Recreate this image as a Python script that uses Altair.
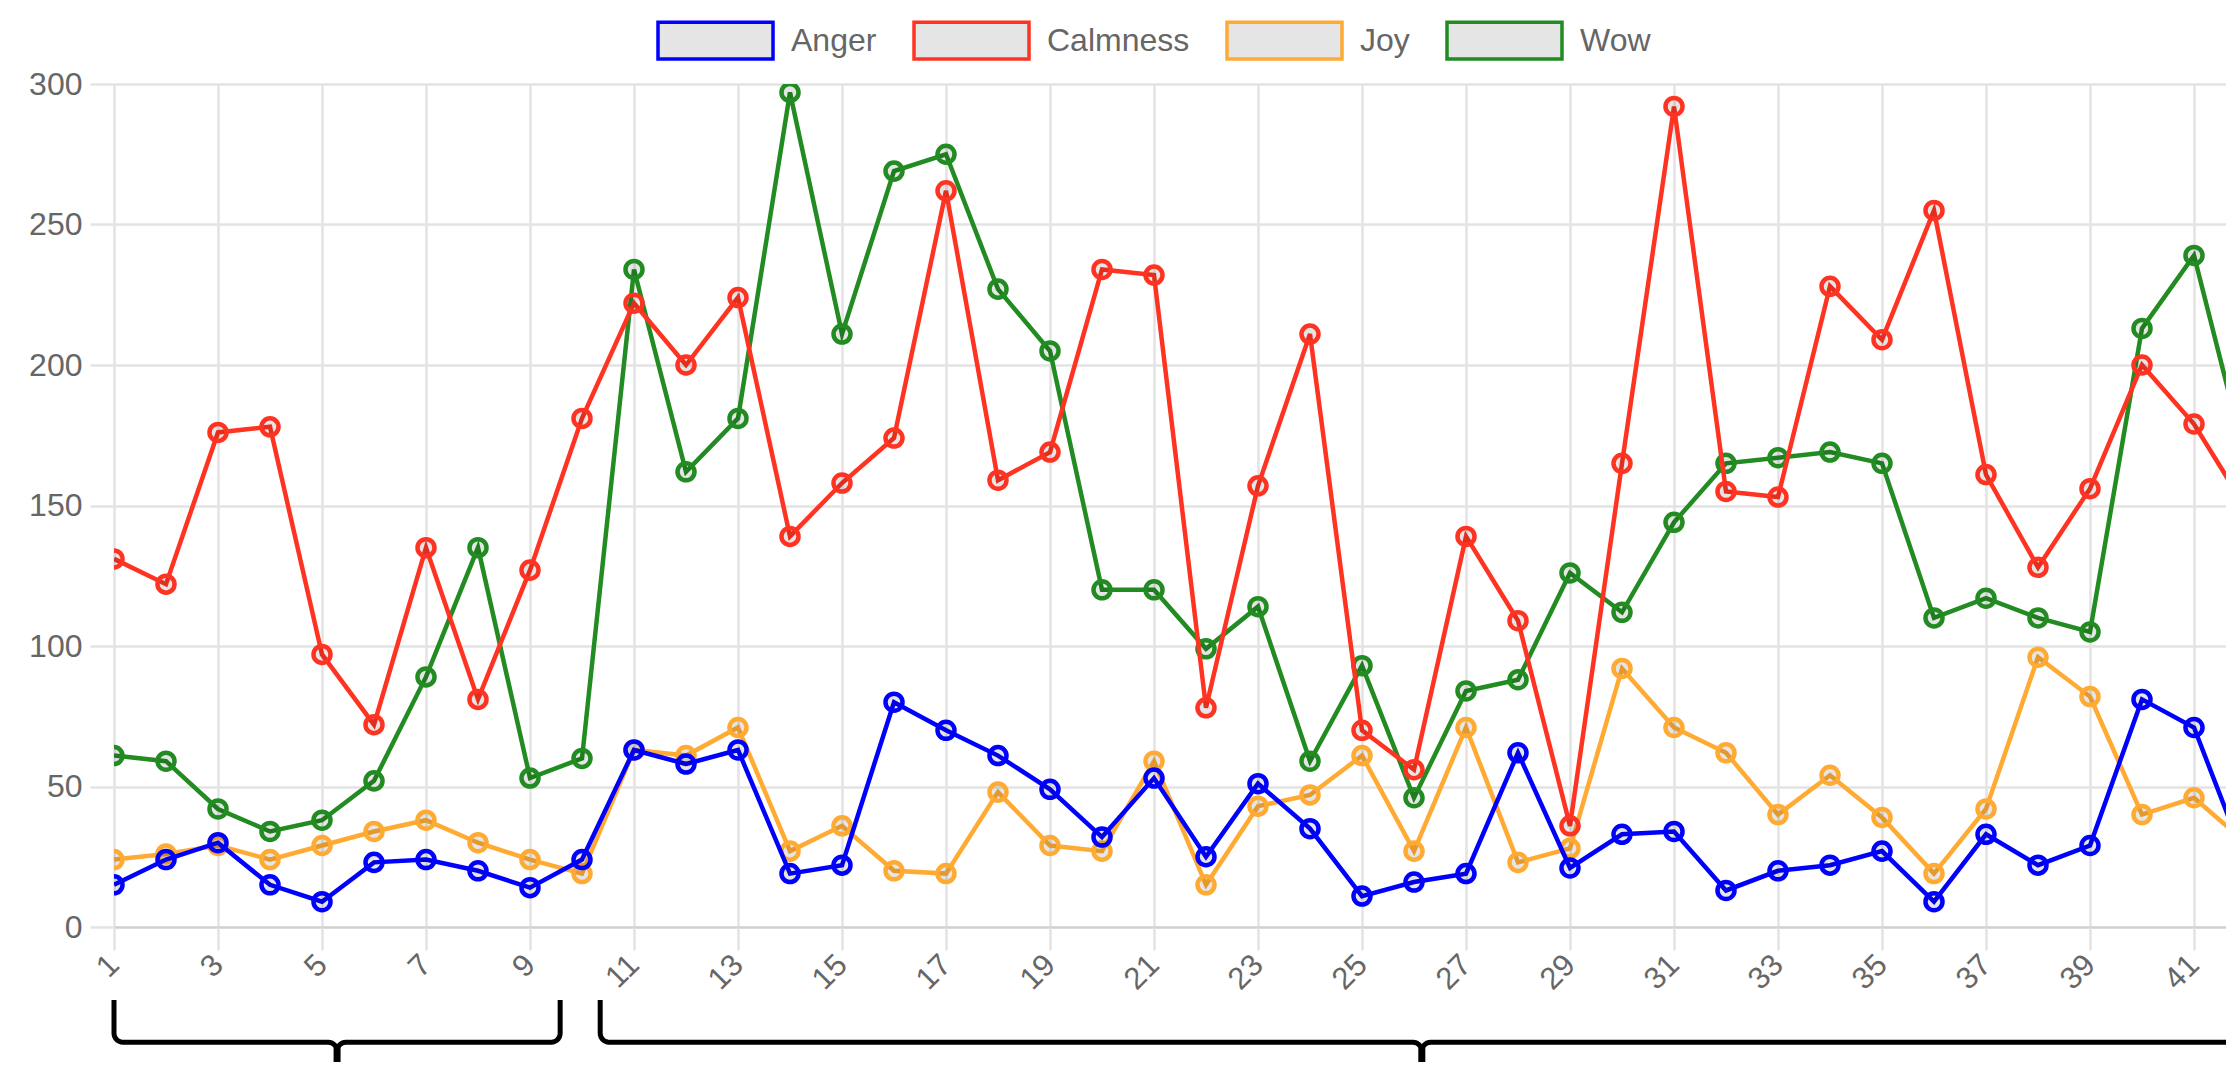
import altair as alt
import pandas as pd
import numpy as np

# ---------------- data ----------------
labels = list(range(1, 43))
anger = [15, 24, 30, 15, 9, 23, 24, 20, 14, 24, 63, 58, 63, 19, 22, 80, 70, 61, 49, 32, 53,
         25, 51, 35, 11, 16, 19, 62, 21, 33, 34, 13, 20, 22, 27, 9, 33, 22, 29, 81, 71, 23]
calmness = [131, 122, 176, 178, 97, 72, 135, 81, 127, 181, 222, 200, 224, 139, 158, 174, 262, 159, 169, 234, 232,
            78, 157, 211, 70, 56, 139, 109, 36, 165, 292, 155, 153, 228, 209, 255, 161, 128, 156, 200, 179, 149]
joy = [24, 26, 29, 24, 29, 34, 38, 30, 24, 19, 63, 61, 71, 27, 36, 20, 19, 48, 29, 27, 59,
       15, 43, 47, 61, 27, 71, 23, 28, 92, 71, 62, 40, 54, 39, 19, 42, 96, 82, 40, 46, 30]
wow = [61, 59, 42, 34, 38, 52, 89, 135, 53, 60, 234, 162, 181, 297, 211, 269, 275, 227, 205, 120, 120,
       99, 114, 59, 93, 46, 84, 88, 126, 112, 144, 165, 167, 169, 165, 110, 117, 110, 105, 213, 239, 166]

series_names = ["Anger", "Calmness", "Joy", "Wow"]
series_colors = ["#0000ff", "#ff3322", "#ffaa33", "#228b22"]
series_values = [anger, calmness, joy, wow]

y_ticks = [0, 50, 100, 150, 200, 250, 300]
x_ticks = list(range(1, 42, 2))

# group brackets drawn under the axis (category units)
brace_start = [1.0, 10.35]
brace_end = [9.58, 41.95]

# ---------------- layout ----------------
FONT = "Liberation Sans"
GRID = "#e3e3e3"
PLOT_W = 2112
PLOT_H = 843
PX_PER_X = 52.0
X_MAX = 1 + PLOT_W / PX_PER_X
Y_MAX = 300
PX_PER_Y = PLOT_H / Y_MAX
Y_TOP, Y_MID, Y_TIP = -26.0, -41.0, -66.0

frames = []
for name, vals in zip(series_names, series_values):
    frames.append(pd.DataFrame({"idx": labels, "value": vals, "series": name}))
df = pd.concat(frames, ignore_index=True)

# brace geometry (annotation shape derived from bracket spans)
def brace_points(x0, x1, bid):
    r = 9.0
    rx, ry = r / PX_PER_X, r / PX_PER_Y
    xc = (x0 + x1) / 2
    pts = [(x0, Y_TOP), (x0, Y_MID + ry)]
    for t in np.linspace(np.pi, 1.5 * np.pi, 8)[1:]:
        pts.append((x0 + rx + rx * np.cos(t), Y_MID + ry + ry * np.sin(t)))
    pts.append((xc - rx, Y_MID))
    for t in np.linspace(0.5 * np.pi, 0, 8)[1:]:
        pts.append((xc - rx + rx * np.cos(t), Y_MID - ry + ry * np.sin(t)))
    pts.append((xc, Y_TIP))
    pts.append((xc, Y_MID - ry))
    for t in np.linspace(np.pi, 0.5 * np.pi, 8)[1:]:
        pts.append((xc + rx + rx * np.cos(t), Y_MID - ry + ry * np.sin(t)))
    pts.append((x1 - rx, Y_MID))
    for t in np.linspace(1.5 * np.pi, 2 * np.pi, 8)[1:]:
        pts.append((x1 - rx + rx * np.cos(t), Y_MID + ry + ry * np.sin(t)))
    pts.append((x1, Y_TOP))
    return pd.DataFrame({"idx": [p[0] for p in pts], "value": [p[1] for p in pts],
                         "order": list(range(len(pts))), "brace": bid})

brace_df = pd.concat([brace_points(a, b, i) for i, (a, b) in enumerate(zip(brace_start, brace_end))],
                     ignore_index=True)
tip_df = pd.DataFrame({"idx": [(a + b) / 2 for a, b in zip(brace_start, brace_end)],
                       "y0": Y_MID - 6 / PX_PER_Y, "y1": Y_TIP})

x_scale = alt.Scale(domain=[1, X_MAX], nice=False, zero=False)
y_scale = alt.Scale(domain=[0, Y_MAX], nice=False, zero=False)
stroke_scale = alt.Scale(domain=series_names, range=series_colors)

x_axis = alt.Axis(values=x_ticks, labelAngle=-45, labelAlign="right", labelBaseline="middle",
                  labelFont=FONT, labelFontSize=31, labelColor="#666666", labelPadding=10,
                  labelFlush=False, labelOverlap=False, tickSize=23, tickColor=GRID, tickWidth=2.5,
                  gridColor=GRID, gridWidth=2.5, domain=False, title=None)
y_axis = alt.Axis(values=y_ticks, labelFont=FONT, labelFontSize=32, labelColor="#666666",
                  labelPadding=8, tickSize=24, tickColor=GRID, tickWidth=2.5,
                  gridColor=alt.condition("datum.value === 0", alt.value("#cfcfcf"), alt.value(GRID)),
                  gridWidth=2.5, domain=False, title=None)

legend = alt.Legend(orient="none", legendX=542, legendY=-103, direction="horizontal", columns=4,
                    title=None, symbolType="M-1,-0.32H1V0.32H-1Z", symbolSize=13225,
                    symbolStrokeWidth=3.5, symbolFillColor="#e6e6e6", symbolOpacity=1,
                    labelFont=FONT, labelFontSize=32, labelColor="#666666", labelOffset=16,
                    columnPadding=30, padding=0)

layers = []
for name in reversed(series_names):
    sub = df[df["series"] == name]
    base = alt.Chart(sub).encode(
        x=alt.X("idx:Q", scale=x_scale, axis=x_axis),
        y=alt.Y("value:Q", scale=y_scale, axis=y_axis),
        stroke=alt.Stroke("series:N", scale=stroke_scale, legend=legend),
    )
    line = base.mark_line(strokeWidth=4.5, clip=True)
    pts = base.mark_point(shape="circle", size=290, strokeWidth=4.5, opacity=1, clip=True).encode(
        fill=alt.value("rgba(0,0,0,0.1)")
    )
    layers += [line, pts]

braces = alt.Chart(brace_df).mark_line(color="black", strokeWidth=5, clip=False).encode(
    x=alt.X("idx:Q", scale=x_scale, axis=x_axis),
    y=alt.Y("value:Q", scale=y_scale, axis=y_axis),
    detail="brace:N",
    order="order:Q",
)
tips = alt.Chart(tip_df).mark_rule(color="black", strokeWidth=7, clip=False).encode(
    x=alt.X("idx:Q", scale=x_scale, axis=x_axis),
    y=alt.Y("y0:Q", scale=y_scale, axis=y_axis),
    y2="y1:Q",
)
layers += [braces, tips]

chart = alt.layer(*layers).properties(
    width=PLOT_W, height=PLOT_H,
    autosize=alt.AutoSizeParams(type="none"),
    padding={"left": 106, "top": 76, "right": 0, "bottom": 135},
).configure_view(stroke=None).configure(background="white")

chart.save("out.html", embed_options={"renderer": "svg", "actions": False})
